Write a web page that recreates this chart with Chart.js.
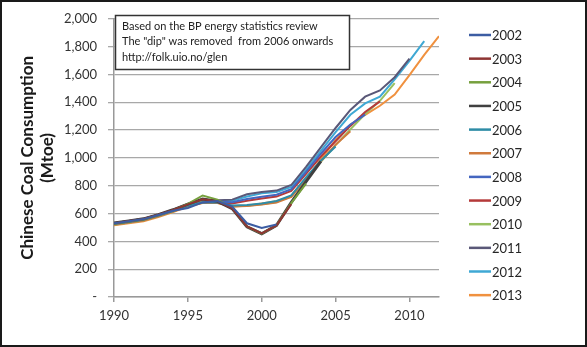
<!DOCTYPE html>
<html>
<head>
<meta charset="utf-8">
<script src="https://cdn.jsdelivr.net/npm/chart.js@4.4.0/dist/chart.umd.min.js"></script>
<style>
  html, body { margin: 0; padding: 0; background: #fff; }
  #wrap { position: relative; width: 587px; height: 347px; }
  #frame { position: absolute; left: 0; top: 0; width: 587px; height: 347px; box-sizing: border-box; border: 2px solid #1a1a1a; pointer-events: none; }
</style>
</head>
<body>
<div id="wrap">
  <canvas id="coalChart" width="587" height="347"></canvas>
  <div id="frame"></div>
</div>
<script>
// years on the x axis
const years = [1990, 1991, 1992, 1993, 1994, 1995, 1996, 1997, 1998, 1999, 2000,
  2001, 2002, 2003, 2004, 2005, 2006, 2007, 2008, 2009, 2010, 2011, 2012];

// one series per BP review edition (Mtoe), each ends the year before the edition
const editions = ['2002', '2003', '2004', '2005', '2006', '2007', '2008', '2009', '2010', '2011', '2012', '2013'];
const ed2002 = [530, 545, 560, 590, 620, 640, 680, 690, 650, 530, 496, 521];
const ed2003 = [531, 546, 561, 591, 626, 666, 703, 689, 637, 507, 457, 515, 668];
const ed2004 = [528, 543, 558, 588, 623, 670, 730, 700, 640, 507, 456, 515, 675, 815];
const ed2005 = [532, 547, 562, 592, 627, 668, 705, 688, 635, 505, 455, 515, 680, 830, 975];
const ed2006 = [525, 540, 555, 585, 618, 658, 680, 680, 658, 662, 672, 690, 730, 860, 980, 1082];
const ed2007 = [520, 535, 550, 580, 614, 655, 678, 678, 650, 655, 665, 680, 720, 850, 975, 1095, 1191];
const ed2008 = [526, 541, 556, 586, 620, 655, 682, 686, 682, 705, 720, 735, 775, 900, 1030, 1150, 1240, 1311];
const ed2009 = [524, 539, 554, 584, 618, 656, 680, 682, 672, 692, 708, 722, 762, 885, 1010, 1120, 1230, 1330, 1406];
const ed2010 = [520, 535, 550, 580, 615, 660, 690, 685, 652, 656, 666, 682, 726, 852, 972, 1092, 1205, 1315, 1410, 1537];
const ed2011 = [532, 547, 562, 592, 627, 668, 690, 695, 700, 738, 755, 765, 805, 935, 1075, 1215, 1345, 1440, 1485, 1580, 1714];
const ed2012 = [528, 543, 558, 588, 622, 663, 686, 690, 692, 722, 745, 755, 792, 915, 1050, 1185, 1310, 1392, 1440, 1565, 1698, 1840];
const ed2013 = [515, 530, 545, 575, 610, 650, 675, 676, 650, 656, 672, 688, 722, 850, 990, 1130, 1238, 1310, 1375, 1455, 1595, 1740, 1875];

const yTicks = [0, 200, 400, 600, 800, 1000, 1200, 1400, 1600, 1800, 2000];
const noteLines = [
  'Based on the BP energy statistics review',
  'The "dip" was removed  from 2006 onwards',
  'http://folk.uio.no/glen'
];

const seriesValues = [ed2002, ed2003, ed2004, ed2005, ed2006, ed2007, ed2008, ed2009, ed2010, ed2011, ed2012, ed2013];
const colors = ['#3c5da3', '#8e3533', '#76a03e', '#404040', '#2e8ca6', '#d07a3c',
  '#4466c0', '#b53a3a', '#98c060', '#5a5878', '#3fa8d4', '#f0913f'];

const FONT = 'Lato, "Open Sans", sans-serif';

const datasets = editions.map((ed, i) => ({
  label: ed,
  data: seriesValues[i].map((v, j) => ({ x: years[j], y: v })),
  borderColor: colors[i],
  backgroundColor: colors[i],
  borderWidth: ed === '2005' ? 3 : 2,
  pointRadius: 0,
  tension: 0,
  fill: false
}));

// note box + legend drawn on the canvas
const extrasPlugin = {
  id: 'extras',
  afterDraw(chart) {
    const ctx = chart.ctx;
    ctx.save();
    // note box
    ctx.fillStyle = '#fff';
    ctx.fillRect(115, 15, 235, 55);
    ctx.strokeStyle = '#333';
    ctx.lineWidth = 1.5;
    ctx.strokeRect(115.5, 15.5, 234, 54);
    ctx.fillStyle = '#222';
    ctx.font = '11px ' + FONT;
    ctx.textBaseline = 'middle';
    noteLines.forEach((t, i) => ctx.fillText(t, 122, 26 + i * 15.5));

    // legend
    ctx.font = '13px ' + FONT;
    chart.data.datasets.forEach((ds, i) => {
      const y = 35 + i * 23.65;
      ctx.strokeStyle = ds.borderColor;
      ctx.lineWidth = 2.5;
      ctx.beginPath();
      ctx.moveTo(469, y);
      ctx.lineTo(491, y);
      ctx.stroke();
      ctx.fillStyle = '#262626';
      ctx.fillText(ds.label, 492, y + 1);
    });
    ctx.restore();
  }
};

new Chart(document.getElementById('coalChart'), {
  type: 'line',
  data: { datasets },
  options: {
    responsive: false,
    animation: false,
    events: [],
    layout: { padding: { top: 15, right: 148, left: 0, bottom: 0 } },
    plugins: { legend: { display: false }, tooltip: { enabled: false } },
    scales: {
      x: {
        type: 'linear',
        min: 1990,
        max: 2012,
        afterBuildTicks: (scale) => { scale.ticks = [1990, 1995, 2000, 2005, 2010].map(v => ({ value: v })); },
        afterFit: (scale) => { scale.height = 50; },
        ticks: {
          color: '#333',
          font: { family: FONT, size: 13 },
          padding: 6,
          maxRotation: 0,
          callback: (v) => String(v)
        },
        grid: { drawOnChartArea: false, drawTicks: true, tickLength: 5, color: '#999', lineWidth: 1.5 },
        border: { display: true, color: '#999', width: 1.5 }
      },
      y: {
        min: 0,
        max: 2000,
        afterBuildTicks: (scale) => { scale.ticks = yTicks.map(v => ({ value: v })); },
        afterFit: (scale) => { scale.width = 114; },
        ticks: {
          color: '#333',
          font: { family: FONT, size: 13 },
          padding: 11,
          callback: (v) => v === 0 ? '-' : v.toLocaleString('en-US')
        },
        grid: { color: '#a8a8a8', lineWidth: 1.3, tickLength: 6, drawTicks: true },
        border: { display: true, color: '#999', width: 1.5 },
        title: {
          display: true,
          text: ['Chinese Coal Consumption', '(Mtoe)'],
          color: '#1a1a1a',
          font: { family: FONT, size: 17, weight: 'bold', lineHeight: 1.2 },
          padding: { top: 17, bottom: 0 }
        }
      }
    }
  },
  plugins: [extrasPlugin]
});
</script>
</body>
</html>
